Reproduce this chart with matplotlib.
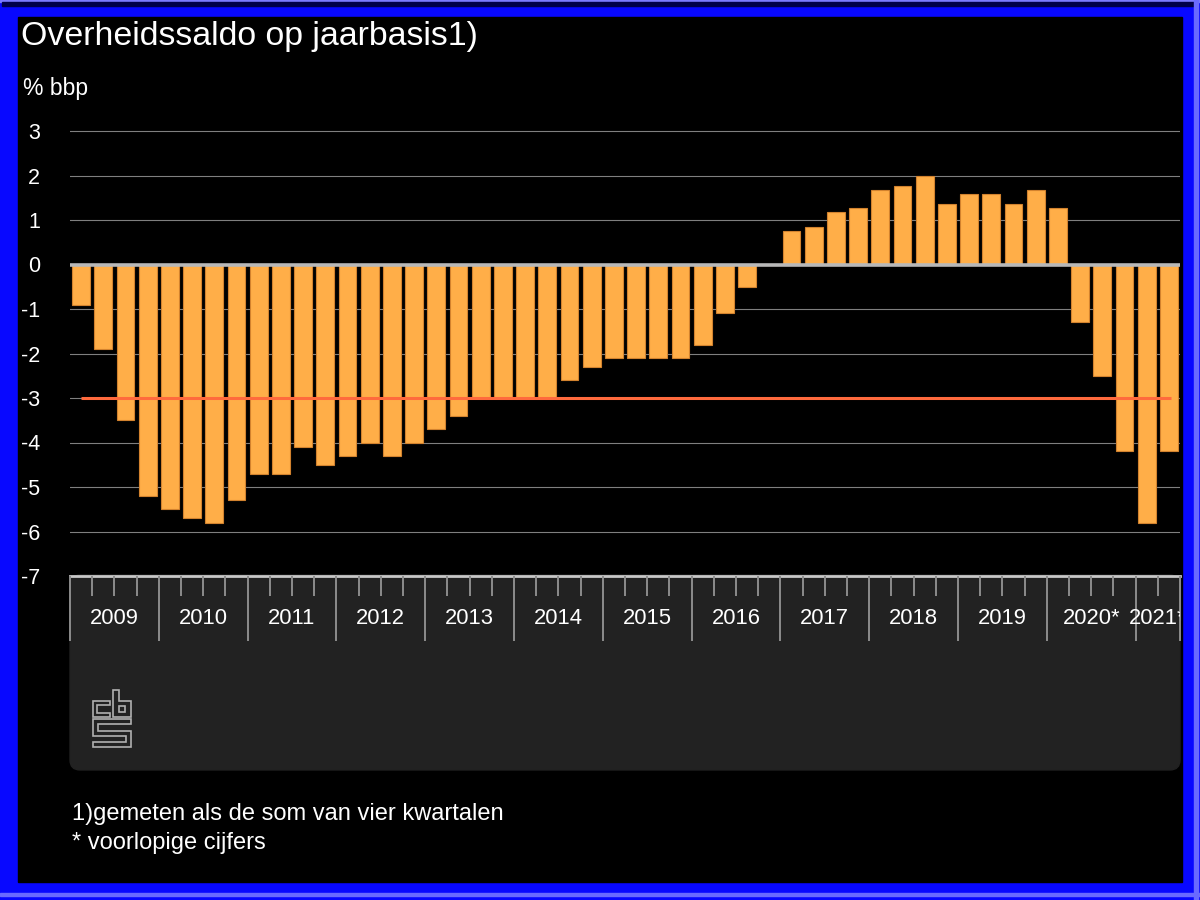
import matplotlib
matplotlib.use("Agg")
import matplotlib.pyplot as plt
from matplotlib.patches import Rectangle, FancyBboxPatch, Polygon

# Overheidssaldo (som van vier kwartalen), % bbp, 2009K1 t/m 2021K2
years = ['2009', '2010', '2011', '2012', '2013', '2014', '2015', '2016',
         '2017', '2018', '2019', '2020*', '2021*']
saldo = [-0.9, -1.9, -3.5, -5.2,
         -5.5, -5.7, -5.8, -5.3,
         -4.7, -4.7, -4.1, -4.5,
         -4.3, -4.0, -4.3, -4.0,
         -3.7, -3.4, -3.0, -3.0,
         -3.0, -3.0, -2.6, -2.3,
         -2.1, -2.1, -2.1, -2.1,
         -1.8, -1.1, -0.5, 0.0,
         0.76, 0.85, 1.17, 1.26,
         1.67, 1.76, 1.99, 1.35,
         1.58, 1.58, 1.35, 1.67,
         1.26, -1.3, -2.5, -4.2,
         -5.8, -4.2]
norm = -3.0
yticks = list(range(-7, 4))

W, H = 1200, 900
plt.rcParams['font.family'] = ['Liberation Sans', 'DejaVu Sans']


def fx(x):
    return x / W


def fy(y):
    return 1 - y / H


fig = plt.figure(figsize=(12, 9), dpi=100, facecolor='#0808ff')

# blue bevelled frame
fig.patches.append(Rectangle((0, fy(2)), 1, 2 / H, transform=fig.transFigure,
                             color='#7a7aff', zorder=-5))
fig.patches.append(Rectangle((fx(2), fy(6)), fx(1192), 4 / H, transform=fig.transFigure,
                             color='#00004a', zorder=-5))
fig.patches.append(Rectangle((fx(1194), 0), fx(4), 1, transform=fig.transFigure,
                             color='#6a6aff', zorder=-5))
fig.patches.append(Rectangle((0, fy(896)), 1, 3 / H, transform=fig.transFigure,
                             color='#6a6aff', zorder=-5))
fig.patches.append(Rectangle((fx(18), fy(882)), fx(1164), 865 / H, transform=fig.transFigure,
                             color='black', zorder=-4))

# dark panel under the axis
fig.patches.append(FancyBboxPatch((fx(80), fy(760)), fx(1090), 175 / H,
                                  boxstyle='round,pad=0.0083', transform=fig.transFigure,
                                  color='#222222', zorder=-3, mutation_aspect=1.33))
fig.patches.append(Rectangle((fx(70), fy(620)), fx(1110), 44 / H, transform=fig.transFigure,
                             color='#222222', zorder=-2))

# main axes
ax = fig.add_axes([fx(70), fy(576), fx(1110), (576 - 117.65) / H])
ax.set_facecolor('none')
n = len(saldo)
x = list(range(n))
ax.bar(x, saldo, width=0.8, color='#ffae48', edgecolor='#d2822e', linewidth=0.8, zorder=2)
for v in yticks:
    if v in (0, -7):
        continue
    ax.axhline(v, color='#7f7f7f', lw=0.8, zorder=1)
ax.axhline(0, color='#b8b8b8', lw=2.6, zorder=3)
ax.axhline(-7, color='#c8c8c8', lw=2.0, zorder=3, clip_on=False)
ax.hlines(norm, 0, n - 0.9, color='#ff6a3d', lw=2.2, zorder=4)
ax.set_xlim(-0.5, n - 0.5)
ax.set_ylim(-7, 3.3)
ax.set_yticks(yticks)
ax.set_yticklabels([str(v) for v in yticks])
ax.set_xticks([])
ax.tick_params(axis='y', length=0, pad=21.6, labelcolor='white', labelsize=15.5)
for s in ax.spines.values():
    s.set_visible(False)

# quarter / year ticks and year labels
ax2 = fig.add_axes([fx(70), fy(641), fx(1110), 65 / H])
ax2.set_facecolor('none')
ax2.set_xlim(-0.5, n - 0.5)
ax2.set_ylim(0, 1)
ax2.axis('off')
for b in range(n + 1):
    xb = b - 0.5
    if b % 4 == 0 or b == n:
        ax2.vlines(xb, 0, 1, color='#8c8c8c', lw=1.4, clip_on=False)
    else:
        ax2.vlines(xb, 1 - 20 / 65, 1, color='#8c8c8c', lw=1.4, clip_on=False)
for k, lab in enumerate(years):
    start = 4 * k - 0.5
    end = min(4 * k + 3.5, n - 0.5)
    ax2.text((start + end) / 2, 1 - 43 / 65, lab, ha='center', va='center',
             color='white', fontsize=15.8, clip_on=True)

# CBS logo
logo = '#b0b0b0'
shapes = [
    [(110, 701), (93, 701), (93, 717), (110, 717), (110, 713), (97, 713), (97, 705), (110, 705)],
    [(113, 690), (119, 690), (119, 701), (131, 701), (131, 717), (113, 717)],
    [(119, 706), (125, 706), (125, 712), (119, 712)],
    [(93, 719), (131, 719), (131, 724), (98, 724), (98, 731), (131, 731), (131, 747),
     (93, 747), (93, 742), (126, 742), (126, 736), (93, 736)],
]
for pts in shapes:
    fig.patches.append(Polygon([(fx(a), fy(b)) for a, b in pts], closed=True,
                               transform=fig.transFigure, fill=False,
                               edgecolor=logo, lw=1.2, zorder=2))

# texts
fig.text(fx(21), fy(45), 'Overheidssaldo op jaarbasis1)', color='white',
         fontsize=24.4, va='baseline', ha='left')
fig.text(fx(23), fy(95), '% bbp', color='white', fontsize=16.5, va='baseline', ha='left')
fig.text(fx(72), fy(820), '1)gemeten als de som van vier kwartalen', color='white',
         fontsize=17, va='baseline', ha='left')
fig.text(fx(72), fy(849), '* voorlopige cijfers', color='white',
         fontsize=17, va='baseline', ha='left')

fig.savefig('out.png', dpi=100, facecolor=fig.get_facecolor())
